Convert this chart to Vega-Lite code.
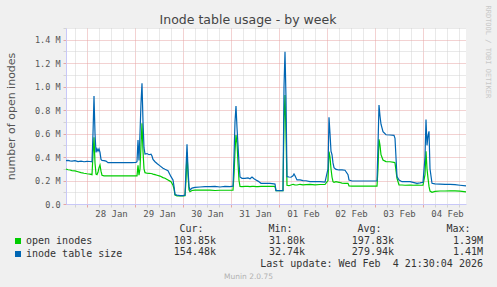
{
  "$schema": "https://vega.github.io/schema/vega-lite/v6.json",
  "width": 400,
  "height": 176,
  "autosize": {"type": "none"},
  "padding": {"left": 66, "top": 28, "right": 31, "bottom": 83},
  "background": "#f0f0f0",
  "title": {"text": "Inode table usage - by week", "font": "DejaVu Sans", "fontSize": 12.5, "fontWeight": "normal", "color": "#444444", "anchor": "middle", "frame": "group", "dx": -18, "dy": 23, "offset": -11, "baseline": "bottom"},
  "config": {"view": {"fill": "#ffffff", "stroke": null}},
  "layer": [
    {
      "data": {"values": [
        {"t": "2026-01-27T13:30:00Z", "open inodes": 298000, "inode table size": 369000},
        {"t": "2026-01-27T14:30:00Z", "open inodes": 292000, "inode table size": 372000},
        {"t": "2026-01-27T15:30:00Z", "open inodes": 290000, "inode table size": 368000},
        {"t": "2026-01-27T16:30:00Z", "open inodes": 285000, "inode table size": 366000},
        {"t": "2026-01-27T18:00:00Z", "open inodes": 282000, "inode table size": 370000},
        {"t": "2026-01-27T19:30:00Z", "open inodes": 275000, "inode table size": 362000},
        {"t": "2026-01-27T21:00:00Z", "open inodes": 268000, "inode table size": 366000},
        {"t": "2026-01-27T22:30:00Z", "open inodes": 262000, "inode table size": 360000},
        {"t": "2026-01-28T00:00:00Z", "open inodes": 258000, "inode table size": 364000},
        {"t": "2026-01-28T01:30:00Z", "open inodes": 255000, "inode table size": 362000},
        {"t": "2026-01-28T02:30:00Z", "open inodes": 250000, "inode table size": 360000},
        {"t": "2026-01-28T03:00:00Z", "open inodes": 420000, "inode table size": 600000},
        {"t": "2026-01-28T03:30:00Z", "open inodes": 568000, "inode table size": 920000},
        {"t": "2026-01-28T04:00:00Z", "open inodes": 350000, "inode table size": 600000},
        {"t": "2026-01-28T04:30:00Z", "open inodes": 255000, "inode table size": 440000},
        {"t": "2026-01-28T05:00:00Z", "open inodes": 250000, "inode table size": 470000},
        {"t": "2026-01-28T05:30:00Z", "open inodes": 270000, "inode table size": 450000},
        {"t": "2026-01-28T06:00:00Z", "open inodes": 310000, "inode table size": 470000},
        {"t": "2026-01-28T06:30:00Z", "open inodes": 332000, "inode table size": 440000},
        {"t": "2026-01-28T07:00:00Z", "open inodes": 280000, "inode table size": 380000},
        {"t": "2026-01-28T07:30:00Z", "open inodes": 245000, "inode table size": 372000},
        {"t": "2026-01-28T08:30:00Z", "open inodes": 240000, "inode table size": 370000},
        {"t": "2026-01-28T09:30:00Z", "open inodes": 240000, "inode table size": 366000},
        {"t": "2026-01-28T10:30:00Z", "open inodes": 240000, "inode table size": 352000},
        {"t": "2026-01-28T12:30:00Z", "open inodes": 239000, "inode table size": 352000},
        {"t": "2026-01-28T14:30:00Z", "open inodes": 239000, "inode table size": 352000},
        {"t": "2026-01-28T16:30:00Z", "open inodes": 239000, "inode table size": 352000},
        {"t": "2026-01-28T18:30:00Z", "open inodes": 239000, "inode table size": 352000},
        {"t": "2026-01-28T20:30:00Z", "open inodes": 239000, "inode table size": 352000},
        {"t": "2026-01-28T22:30:00Z", "open inodes": 239000, "inode table size": 352000},
        {"t": "2026-01-29T00:30:00Z", "open inodes": 239000, "inode table size": 355000},
        {"t": "2026-01-29T01:00:00Z", "open inodes": 240000, "inode table size": 360000},
        {"t": "2026-01-29T01:30:00Z", "open inodes": 330000, "inode table size": 545000},
        {"t": "2026-01-29T02:00:00Z", "open inodes": 245000, "inode table size": 370000},
        {"t": "2026-01-29T02:30:00Z", "open inodes": 300000, "inode table size": 600000},
        {"t": "2026-01-29T03:00:00Z", "open inodes": 500000, "inode table size": 860000},
        {"t": "2026-01-29T03:30:00Z", "open inodes": 688000, "inode table size": 1029000},
        {"t": "2026-01-29T04:00:00Z", "open inodes": 450000, "inode table size": 700000},
        {"t": "2026-01-29T04:30:00Z", "open inodes": 300000, "inode table size": 480000},
        {"t": "2026-01-29T05:00:00Z", "open inodes": 267000, "inode table size": 426000},
        {"t": "2026-01-29T06:00:00Z", "open inodes": 262000, "inode table size": 430000},
        {"t": "2026-01-29T07:00:00Z", "open inodes": 261000, "inode table size": 420000},
        {"t": "2026-01-29T08:00:00Z", "open inodes": 260000, "inode table size": 425000},
        {"t": "2026-01-29T08:30:00Z", "open inodes": 258000, "inode table size": 409000},
        {"t": "2026-01-29T09:00:00Z", "open inodes": 255000, "inode table size": 380000},
        {"t": "2026-01-29T10:00:00Z", "open inodes": 250000, "inode table size": 360000},
        {"t": "2026-01-29T11:00:00Z", "open inodes": 245000, "inode table size": 345000},
        {"t": "2026-01-29T12:30:00Z", "open inodes": 238000, "inode table size": 325000},
        {"t": "2026-01-29T14:00:00Z", "open inodes": 225000, "inode table size": 305000},
        {"t": "2026-01-29T15:00:00Z", "open inodes": 220000, "inode table size": 296000},
        {"t": "2026-01-29T16:30:00Z", "open inodes": 205000, "inode table size": 284000},
        {"t": "2026-01-29T17:30:00Z", "open inodes": 195000, "inode table size": 250000},
        {"t": "2026-01-29T18:00:00Z", "open inodes": 190000, "inode table size": 233000},
        {"t": "2026-01-29T19:00:00Z", "open inodes": 160000, "inode table size": 205000},
        {"t": "2026-01-29T19:30:00Z", "open inodes": 130000, "inode table size": 150000},
        {"t": "2026-01-29T20:00:00Z", "open inodes": 77000, "inode table size": 80000},
        {"t": "2026-01-29T21:00:00Z", "open inodes": 70000, "inode table size": 75000},
        {"t": "2026-01-29T22:30:00Z", "open inodes": 68000, "inode table size": 72000},
        {"t": "2026-01-30T00:00:00Z", "open inodes": 68000, "inode table size": 72000},
        {"t": "2026-01-30T01:00:00Z", "open inodes": 70000, "inode table size": 75000},
        {"t": "2026-01-30T01:30:00Z", "open inodes": 200000, "inode table size": 300000},
        {"t": "2026-01-30T02:00:00Z", "open inodes": 440000, "inode table size": 510000},
        {"t": "2026-01-30T02:30:00Z", "open inodes": 250000, "inode table size": 300000},
        {"t": "2026-01-30T03:00:00Z", "open inodes": 120000, "inode table size": 150000},
        {"t": "2026-01-30T03:30:00Z", "open inodes": 105000, "inode table size": 119000},
        {"t": "2026-01-30T04:30:00Z", "open inodes": 115000, "inode table size": 135000},
        {"t": "2026-01-30T06:00:00Z", "open inodes": 119000, "inode table size": 142000},
        {"t": "2026-01-30T08:30:00Z", "open inodes": 119000, "inode table size": 145000},
        {"t": "2026-01-30T11:00:00Z", "open inodes": 119000, "inode table size": 148000},
        {"t": "2026-01-30T13:30:00Z", "open inodes": 119000, "inode table size": 148000},
        {"t": "2026-01-30T16:00:00Z", "open inodes": 115000, "inode table size": 150000},
        {"t": "2026-01-30T18:30:00Z", "open inodes": 117000, "inode table size": 145000},
        {"t": "2026-01-30T21:00:00Z", "open inodes": 117000, "inode table size": 150000},
        {"t": "2026-01-30T23:30:00Z", "open inodes": 117000, "inode table size": 148000},
        {"t": "2026-01-31T01:00:00Z", "open inodes": 118000, "inode table size": 152000},
        {"t": "2026-01-31T01:30:00Z", "open inodes": 250000, "inode table size": 400000},
        {"t": "2026-01-31T02:00:00Z", "open inodes": 450000, "inode table size": 700000},
        {"t": "2026-01-31T02:30:00Z", "open inodes": 588000, "inode table size": 835000},
        {"t": "2026-01-31T03:00:00Z", "open inodes": 520000, "inode table size": 650000},
        {"t": "2026-01-31T03:30:00Z", "open inodes": 350000, "inode table size": 500000},
        {"t": "2026-01-31T04:00:00Z", "open inodes": 200000, "inode table size": 350000},
        {"t": "2026-01-31T04:30:00Z", "open inodes": 150000, "inode table size": 230000},
        {"t": "2026-01-31T05:30:00Z", "open inodes": 148000, "inode table size": 219000},
        {"t": "2026-01-31T07:00:00Z", "open inodes": 150000, "inode table size": 218000},
        {"t": "2026-01-31T08:30:00Z", "open inodes": 150000, "inode table size": 222000},
        {"t": "2026-01-31T09:30:00Z", "open inodes": 148000, "inode table size": 215000},
        {"t": "2026-01-31T10:30:00Z", "open inodes": 150000, "inode table size": 230000},
        {"t": "2026-01-31T11:30:00Z", "open inodes": 150000, "inode table size": 215000},
        {"t": "2026-01-31T12:30:00Z", "open inodes": 148000, "inode table size": 205000},
        {"t": "2026-01-31T13:30:00Z", "open inodes": 148000, "inode table size": 195000},
        {"t": "2026-01-31T15:00:00Z", "open inodes": 150000, "inode table size": 176000},
        {"t": "2026-01-31T17:00:00Z", "open inodes": 150000, "inode table size": 176000},
        {"t": "2026-01-31T19:30:00Z", "open inodes": 150000, "inode table size": 175000},
        {"t": "2026-01-31T21:30:00Z", "open inodes": 150000, "inode table size": 172000},
        {"t": "2026-01-31T22:00:00Z", "open inodes": 148000, "inode table size": 170000},
        {"t": "2026-01-31T22:30:00Z", "open inodes": 114000, "inode table size": 114000},
        {"t": "2026-02-01T00:30:00Z", "open inodes": 114000, "inode table size": 114000},
        {"t": "2026-02-01T02:00:00Z", "open inodes": 114000, "inode table size": 114000},
        {"t": "2026-02-01T02:30:00Z", "open inodes": 700000, "inode table size": 1000000},
        {"t": "2026-02-01T03:00:00Z", "open inodes": 929000, "inode table size": 1298000},
        {"t": "2026-02-01T03:30:00Z", "open inodes": 600000, "inode table size": 900000},
        {"t": "2026-02-01T04:00:00Z", "open inodes": 160000, "inode table size": 233000},
        {"t": "2026-02-01T05:00:00Z", "open inodes": 156000, "inode table size": 230000},
        {"t": "2026-02-01T06:00:00Z", "open inodes": 162000, "inode table size": 228000},
        {"t": "2026-02-01T07:00:00Z", "open inodes": 168000, "inode table size": 240000},
        {"t": "2026-02-01T07:30:00Z", "open inodes": 165000, "inode table size": 256000},
        {"t": "2026-02-01T08:00:00Z", "open inodes": 163000, "inode table size": 240000},
        {"t": "2026-02-01T09:00:00Z", "open inodes": 162000, "inode table size": 205000},
        {"t": "2026-02-01T10:30:00Z", "open inodes": 168000, "inode table size": 205000},
        {"t": "2026-02-01T12:00:00Z", "open inodes": 163000, "inode table size": 200000},
        {"t": "2026-02-01T13:30:00Z", "open inodes": 165000, "inode table size": 198000},
        {"t": "2026-02-01T15:30:00Z", "open inodes": 168000, "inode table size": 190000},
        {"t": "2026-02-01T18:00:00Z", "open inodes": 163000, "inode table size": 190000},
        {"t": "2026-02-01T20:30:00Z", "open inodes": 166000, "inode table size": 190000},
        {"t": "2026-02-01T23:00:00Z", "open inodes": 166000, "inode table size": 186000},
        {"t": "2026-02-02T00:30:00Z", "open inodes": 200000, "inode table size": 300000},
        {"t": "2026-02-02T01:00:00Z", "open inodes": 446000, "inode table size": 739000},
        {"t": "2026-02-02T01:30:00Z", "open inodes": 400000, "inode table size": 600000},
        {"t": "2026-02-02T02:00:00Z", "open inodes": 300000, "inode table size": 450000},
        {"t": "2026-02-02T02:30:00Z", "open inodes": 230000, "inode table size": 420000},
        {"t": "2026-02-02T03:00:00Z", "open inodes": 190000, "inode table size": 350000},
        {"t": "2026-02-02T03:30:00Z", "open inodes": 185000, "inode table size": 310000},
        {"t": "2026-02-02T04:30:00Z", "open inodes": 190000, "inode table size": 295000},
        {"t": "2026-02-02T06:00:00Z", "open inodes": 185000, "inode table size": 290000},
        {"t": "2026-02-02T07:30:00Z", "open inodes": 178000, "inode table size": 290000},
        {"t": "2026-02-02T09:00:00Z", "open inodes": 176000, "inode table size": 288000},
        {"t": "2026-02-02T10:30:00Z", "open inodes": 176000, "inode table size": 250000},
        {"t": "2026-02-02T11:00:00Z", "open inodes": 155000, "inode table size": 205000},
        {"t": "2026-02-02T12:30:00Z", "open inodes": 153000, "inode table size": 196000},
        {"t": "2026-02-02T16:30:00Z", "open inodes": 153000, "inode table size": 196000},
        {"t": "2026-02-02T21:30:00Z", "open inodes": 153000, "inode table size": 196000},
        {"t": "2026-02-03T01:00:00Z", "open inodes": 153000, "inode table size": 196000},
        {"t": "2026-02-03T01:30:00Z", "open inodes": 300000, "inode table size": 500000},
        {"t": "2026-02-03T02:00:00Z", "open inodes": 551000, "inode table size": 844000},
        {"t": "2026-02-03T02:30:00Z", "open inodes": 500000, "inode table size": 750000},
        {"t": "2026-02-03T03:00:00Z", "open inodes": 420000, "inode table size": 680000},
        {"t": "2026-02-03T04:00:00Z", "open inodes": 375000, "inode table size": 616000},
        {"t": "2026-02-03T05:30:00Z", "open inodes": 361000, "inode table size": 590000},
        {"t": "2026-02-03T07:30:00Z", "open inodes": 360000, "inode table size": 588000},
        {"t": "2026-02-03T09:30:00Z", "open inodes": 355000, "inode table size": 585000},
        {"t": "2026-02-03T10:00:00Z", "open inodes": 350000, "inode table size": 560000},
        {"t": "2026-02-03T11:00:00Z", "open inodes": 219000, "inode table size": 233000},
        {"t": "2026-02-03T12:00:00Z", "open inodes": 162000, "inode table size": 205000},
        {"t": "2026-02-03T13:30:00Z", "open inodes": 162000, "inode table size": 190000},
        {"t": "2026-02-03T15:00:00Z", "open inodes": 160000, "inode table size": 190000},
        {"t": "2026-02-03T17:30:00Z", "open inodes": 162000, "inode table size": 190000},
        {"t": "2026-02-03T19:30:00Z", "open inodes": 160000, "inode table size": 182000},
        {"t": "2026-02-03T21:00:00Z", "open inodes": 162000, "inode table size": 176000},
        {"t": "2026-02-03T22:30:00Z", "open inodes": 160000, "inode table size": 180000},
        {"t": "2026-02-04T00:00:00Z", "open inodes": 160000, "inode table size": 185000},
        {"t": "2026-02-04T01:00:00Z", "open inodes": 250000, "inode table size": 400000},
        {"t": "2026-02-04T01:30:00Z", "open inodes": 450000, "inode table size": 720000},
        {"t": "2026-02-04T02:00:00Z", "open inodes": 300000, "inode table size": 500000},
        {"t": "2026-02-04T02:30:00Z", "open inodes": 220000, "inode table size": 580000},
        {"t": "2026-02-04T03:00:00Z", "open inodes": 150000, "inode table size": 620000},
        {"t": "2026-02-04T03:30:00Z", "open inodes": 110000, "inode table size": 300000},
        {"t": "2026-02-04T04:30:00Z", "open inodes": 100000, "inode table size": 176000},
        {"t": "2026-02-04T06:00:00Z", "open inodes": 108000, "inode table size": 172000},
        {"t": "2026-02-04T08:30:00Z", "open inodes": 111000, "inode table size": 170000},
        {"t": "2026-02-04T11:00:00Z", "open inodes": 111000, "inode table size": 168000},
        {"t": "2026-02-04T13:30:00Z", "open inodes": 113000, "inode table size": 168000},
        {"t": "2026-02-04T16:00:00Z", "open inodes": 112000, "inode table size": 165000},
        {"t": "2026-02-04T18:30:00Z", "open inodes": 110000, "inode table size": 160000},
        {"t": "2026-02-04T21:30:00Z", "open inodes": 104000, "inode table size": 154000}
      ]},
      "transform": [{"fold": ["open inodes", "inode table size"], "as": ["series", "value"]}],
      "mark": {"type": "line", "strokeWidth": 1.2, "interpolate": "linear"},
      "encoding": {
        "x": {
          "field": "t", "type": "temporal",
          "scale": {"type": "utc", "domain": [1769520600000, 1770240600000]},
          "axis": {
            "values": [1769536800000, 1769558400000, 1769580000000, 1769601600000, 1769623200000, 1769644800000, 1769666400000, 1769688000000, 1769709600000, 1769731200000, 1769752800000, 1769774400000, 1769796000000, 1769817600000, 1769839200000, 1769860800000, 1769882400000, 1769904000000, 1769925600000, 1769947200000, 1769968800000, 1769990400000, 1770012000000, 1770033600000, 1770055200000, 1770076800000, 1770098400000, 1770120000000, 1770141600000, 1770163200000, 1770184800000, 1770206400000, 1770228000000],
            "labelExpr": "utchours(datum.value) == 12 ? utcFormat(datum.value, '%d %b') : ''",
            "labelFont": "DejaVu Sans Mono", "labelFontSize": 9, "labelColor": "#555555",
            "labelPadding": 2, "labelOverlap": false, "labelFlush": false,
            "tickSize": 3,
            "tickColor": {"condition": {"test": "utchours(datum.value) == 0", "value": "#e6a5a5"}, "value": "#d3d3d3"},
            "grid": true,
            "gridColor": {"condition": {"test": "utchours(datum.value) == 0", "value": "#e6a5a5"}, "value": "#d3d3d3"},
            "gridDash": [1, 1],
            "domainColor": "#c8c8f8",
            "title": "Munin 2.0.75", "titleFont": "DejaVu Sans", "titleFontSize": 7.5, "titleFontWeight": "normal",
            "titleColor": "#b0b0b0", "titleX": 182, "titleY": 72, "titleAlign": "center", "titleBaseline": "middle"
          }
        },
        "y": {
          "field": "value", "type": "quantitative",
          "scale": {"domain": [0, 1500000], "nice": false},
          "axis": {
            "values": [0, 100000, 200000, 300000, 400000, 500000, 600000, 700000, 800000, 900000, 1000000, 1100000, 1200000, 1300000, 1400000, 1500000],
            "labelExpr": "datum.value % 200000 == 0 ? (datum.value == 0 ? '0.0' : format(datum.value / 1000000, '.1f') + ' M') : ''",
            "labelFont": "DejaVu Sans Mono", "labelFontSize": 8.5, "labelColor": "#555555",
            "labelPadding": 3, "labelOverlap": false, "labelFlush": false,
            "tickSize": 3,
            "tickColor": {"condition": {"test": "datum.value % 200000 == 0", "value": "#e6a5a5"}, "value": "#d3d3d3"},
            "grid": true,
            "gridColor": {"condition": {"test": "datum.value % 200000 == 0", "value": "#e6a5a5"}, "value": "#d3d3d3"},
            "gridDash": [1, 1],
            "domainColor": "#c8c8f8",
            "title": "number of open inodes", "titleFont": "DejaVu Sans", "titleFontSize": 11, "titleFontWeight": "normal",
            "titleColor": "#555555", "titleX": -55, "titleY": 88, "titleAngle": -90, "titleAlign": "center", "titleBaseline": "middle"
          }
        },
        "color": {
          "field": "series", "type": "nominal",
          "scale": {"domain": ["open inodes", "inode table size"], "range": ["#00cc00", "#0066b3"]},
          "legend": {
            "title": null, "orient": "none", "legendX": -53, "legendY": 208, "direction": "vertical",
            "symbolType": "square", "symbolSize": 9, "symbolStrokeWidth": 3,
            "labelFont": "DejaVu Sans Mono", "labelFontSize": 10, "labelColor": "#333333",
            "rowPadding": -4, "labelOffset": 3
          }
        }
      }
    },
    {
      "layer": [
        {
          "data": {"values": [
            {"r": "h", "c": "Cur", "t": "Cur:"},
            {"r": "h", "c": "Min", "t": "Min:"},
            {"r": "h", "c": "Avg", "t": "Avg:"},
            {"r": "h", "c": "Max", "t": "Max:"}
          ]},
          "mark": {"type": "text", "align": "right", "baseline": "middle", "dx": -12.5, "font": "DejaVu Sans Mono", "fontSize": 10, "color": "#333333"},
          "encoding": {
            "x": {"field": "c", "type": "nominal", "scale": {"type": "point", "domain": ["Cur", "Min", "Avg", "Max"], "range": [150, 417], "padding": 0}, "axis": null},
            "y": {"field": "r", "type": "nominal", "scale": {"type": "point", "domain": ["h", "open inodes", "inode table size", "upd"], "range": [201, 236], "padding": 0},
              "axis": {"orient": "right", "labels": false, "ticks": false, "domain": false, "grid": false,
                "title": "RRDTOOL / TOBI OETIKER", "titleFont": "DejaVu Sans Mono", "titleFontSize": 7, "titleFontWeight": "normal",
                "titleColor": "#c8c8c8", "titleAngle": 90, "titleX": 21, "titleY": -23, "titleAlign": "left", "titleBaseline": "middle"}},
            "text": {"field": "t"}
          }
        },
        {
          "data": {"values": [
            {"r": "open inodes", "c": "Cur", "t": "103.85k"},
            {"r": "open inodes", "c": "Min", "t": "31.80k"},
            {"r": "open inodes", "c": "Avg", "t": "197.83k"},
            {"r": "open inodes", "c": "Max", "t": "1.39M"},
            {"r": "inode table size", "c": "Cur", "t": "154.48k"},
            {"r": "inode table size", "c": "Min", "t": "32.74k"},
            {"r": "inode table size", "c": "Avg", "t": "279.94k"},
            {"r": "inode table size", "c": "Max", "t": "1.41M"},
            {"r": "upd", "c": "Max", "t": "Last update: Wed Feb \u00a04 21:30:04 2026"}
          ]},
          "mark": {"type": "text", "align": "right", "baseline": "middle", "font": "DejaVu Sans Mono", "fontSize": 10, "color": "#333333"},
          "encoding": {
            "x": {"field": "c", "type": "nominal", "scale": {"type": "point", "domain": ["Cur", "Min", "Avg", "Max"], "range": [150, 417], "padding": 0}, "axis": null},
            "y": {"field": "r", "type": "nominal", "scale": {"type": "point", "domain": ["h", "open inodes", "inode table size", "upd"], "range": [201, 236], "padding": 0},
              "axis": {"orient": "right", "labels": false, "ticks": false, "domain": false, "grid": false,
                "title": "RRDTOOL / TOBI OETIKER", "titleFont": "DejaVu Sans Mono", "titleFontSize": 7, "titleFontWeight": "normal",
                "titleColor": "#c8c8c8", "titleAngle": 90, "titleX": 21, "titleY": -23, "titleAlign": "left", "titleBaseline": "middle"}},
            "text": {"field": "t"}
          }
        }
      ]
    }
  ],
  "resolve": {"scale": {"x": "independent", "y": "independent"}, "axis": {"x": "independent", "y": "independent"}}
}
